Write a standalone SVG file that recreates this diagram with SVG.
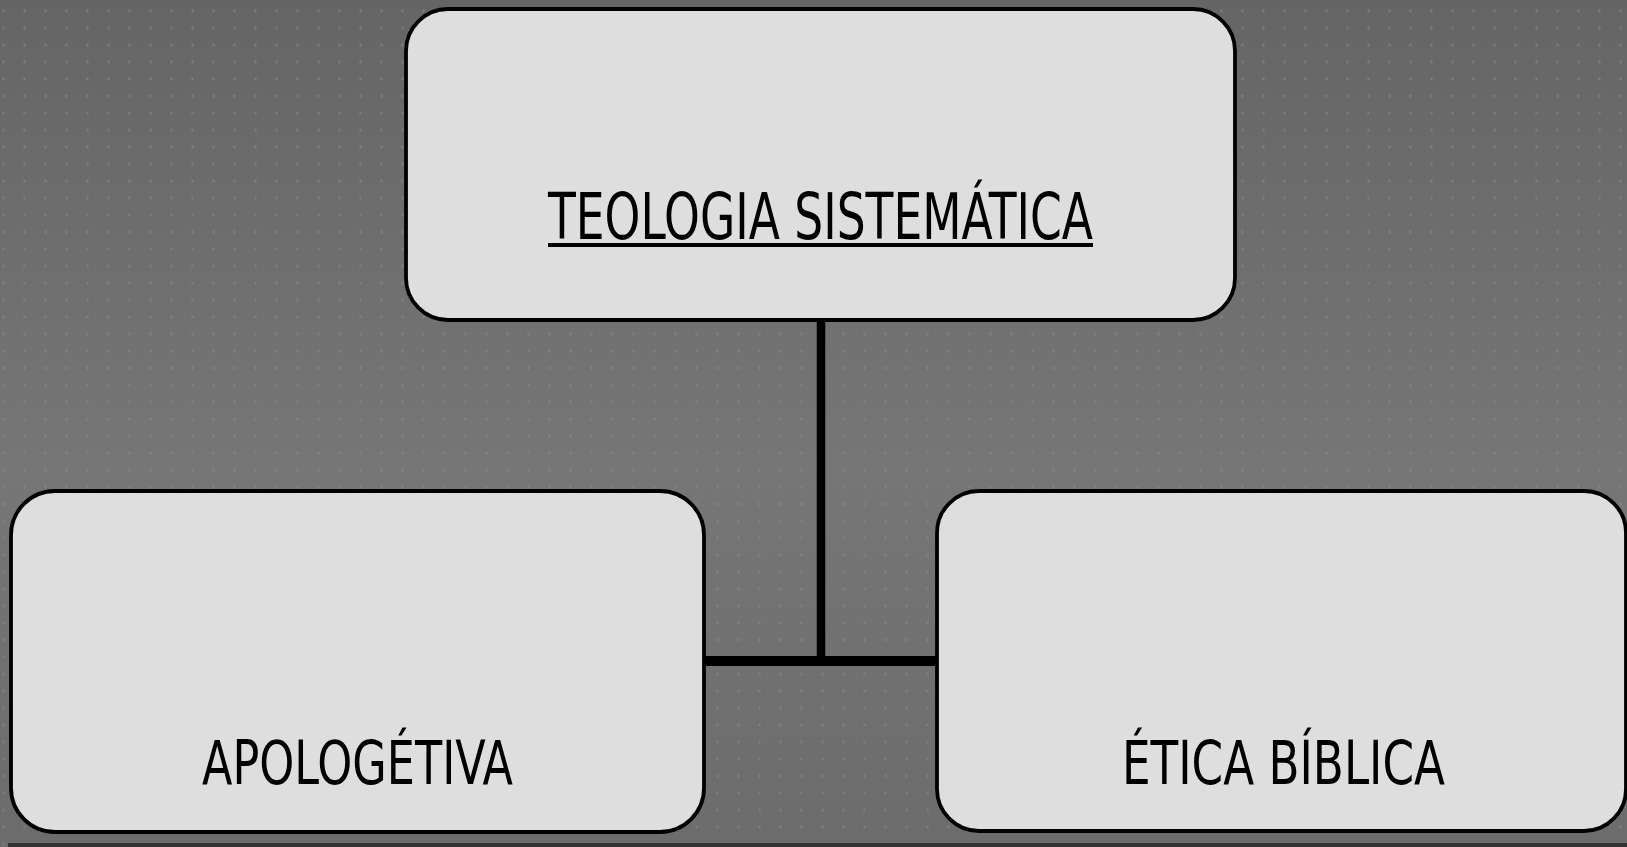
<svg xmlns="http://www.w3.org/2000/svg" width="1627" height="847" viewBox="0 0 1627 847">
<defs>
<linearGradient id="bg" x1="0" y1="0" x2="0" y2="1">
<stop offset="0" stop-color="#656565"/>
<stop offset="0.55" stop-color="#767676"/>
<stop offset="1" stop-color="#6c6c6c"/>
</linearGradient>
<pattern id="dots" x="0" y="0" width="21" height="17" patternUnits="userSpaceOnUse">
<rect x="2.5" y="9.5" width="2" height="3" fill="#8a8a8a" opacity="0.6"/>
</pattern>
</defs>
<style>
.box{fill:#dedede;stroke:#000;stroke-width:3.8}
.lbl{font-family:"DejaVu Sans Condensed","DejaVu Sans",sans-serif;fill:#000}
.conn{stroke:#000;fill:none}
</style>
<rect width="1627" height="847" fill="url(#bg)"/>
<rect width="1627" height="847" fill="url(#dots)"/>
<rect x="8" y="843" width="1619" height="4" fill="#333"/>
<g id="connectors">
<line class="conn" x1="821" y1="320" x2="821" y2="661" stroke-width="8.5"/>
<line class="conn" x1="705" y1="661" x2="937" y2="661" stroke-width="10"/>
</g>
<g id="node-teologia">
<rect class="box" x="406" y="9" width="829" height="311" rx="42" ry="42"/>
<text class="lbl" x="548" y="239" font-size="64" textLength="545" lengthAdjust="spacingAndGlyphs">TEOLOGIA SISTEMÁTICA</text>
<rect x="548" y="243" width="545" height="4" fill="#000"/>
</g>
<g id="node-apologetiva">
<rect class="box" x="11" y="491" width="693" height="341" rx="44" ry="44"/>
<text class="lbl" x="202" y="784" font-size="60" textLength="311" lengthAdjust="spacingAndGlyphs">APOLOGÉTIVA</text>
</g>
<g id="node-etica">
<rect class="box" x="937" y="491" width="689" height="340" rx="42" ry="42"/>
<text class="lbl" x="1122" y="784" font-size="60" textLength="323" lengthAdjust="spacingAndGlyphs">ÉTICA BÍBLICA</text>
</g>
</svg>
